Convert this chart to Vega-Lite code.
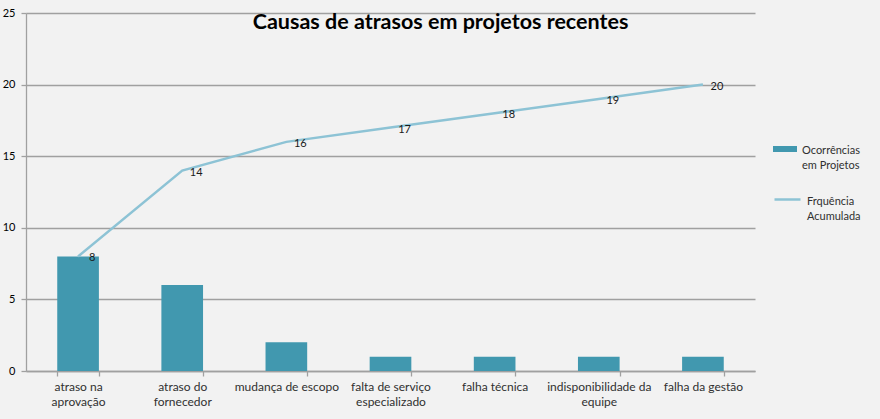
{
  "$schema": "https://vega.github.io/schema/vega-lite/v6.json",
  "width": 729,
  "height": 358,
  "autosize": {"type": "none"},
  "padding": {"left": 26, "top": 13, "right": 125, "bottom": 48},
  "background": "#f2f2f2",
  "title": {"text": "Causas de atrasos em projetos recentes", "font": "Lato", "fontSize": 21.5, "fontWeight": "bold", "color": "#000000", "anchor": "middle", "offset": 0, "dy": 26, "dx": 50},
  "config": {"view": {"stroke": null}, "legend": {"padding": 0}},
  "data": {"values": [
    {"cat": "atraso na|aprovação", "ocorr": 8, "acum": 8},
    {"cat": "atraso do|fornecedor", "ocorr": 6, "acum": 14},
    {"cat": "mudança de escopo", "ocorr": 2, "acum": 16},
    {"cat": "falta de serviço|especializado", "ocorr": 1, "acum": 17},
    {"cat": "falha técnica", "ocorr": 1, "acum": 18},
    {"cat": "indisponibilidade da|equipe", "ocorr": 1, "acum": 19},
    {"cat": "falha da gestão", "ocorr": 1, "acum": 20}
  ]},
  "encoding": {
    "x": {"field": "cat", "type": "nominal", "sort": null, "scale": {"paddingInner": 0.6, "paddingOuter": 0.3},
      "axis": {"title": null, "labelAngle": 0, "labelExpr": "split(datum.label, '|')", "labelFont": "Lato", "labelFontSize": 12, "labelColor": "#303030", "labelLineHeight": 15, "labelPadding": 5, "tickBand": "extent", "tickSize": 5, "tickColor": "#a0a0a0", "domainColor": "#a0a0a0", "domainWidth": 1.3, "tickWidth": 1.3, "labelBaseline": "top"}}
  },
  "layer": [
    {
      "mark": {"type": "bar"},
      "encoding": {
        "y": {"field": "ocorr", "type": "quantitative", "scale": {"domain": [0, 25], "nice": false},
          "axis": {"title": null, "values": [0, 5, 10, 15, 20, 25], "labelFont": "Lato", "labelFontSize": 11, "labelColor": "#000000", "tickSize": 5, "labelPadding": 6, "tickColor": "#a0a0a0", "domainColor": "#a0a0a0", "gridColor": "#a0a0a0", "gridWidth": 1.3, "domainWidth": 1.3, "tickWidth": 1.3}},
        "color": {"datum": "Ocorrências|em Projetos", "type": "nominal", "scale": {"range": ["#4198af"]},
          "legend": {"title": null, "orient": "none", "legendX": 747, "legendY": 124, "labelExpr": "split(datum.label, '|')", "labelFont": "Lato", "labelFontSize": 11, "labelColor": "#303030", "labelBaseline": "alphabetic", "symbolType": "M-1,-0.25H1V0.25H-1Z", "symbolSize": 576, "symbolStrokeWidth": 0, "labelOffset": 5,
            "encode": {"labels": {"update": {"dy": {"value": 5}, "lineHeight": {"value": 15}}}}}}
      }
    },
    {
      "mark": {"type": "line", "strokeWidth": 2.5},
      "encoding": {
        "y": {"field": "acum", "type": "quantitative"},
        "stroke": {"datum": "Frquência|Acumulada", "type": "nominal", "scale": {"range": ["#8dc3d5"]},
          "legend": {"title": null, "orient": "none", "legendX": 747, "legendY": 172, "labelExpr": "split(datum.label, '|')", "labelFont": "Lato", "labelFontSize": 11, "labelColor": "#303030", "labelBaseline": "alphabetic", "symbolType": "stroke", "symbolSize": 676, "symbolStrokeWidth": 2.5, "labelOffset": 5,
            "encode": {"labels": {"update": {"dy": {"value": 5}, "lineHeight": {"value": 15}}}}}}
      }
    },
    {
      "mark": {"type": "text", "dx": 14, "dy": 2, "font": "Lato", "fontSize": 11, "color": "#1a1a1a", "align": "center", "baseline": "middle"},
      "encoding": {
        "y": {"field": "acum", "type": "quantitative"},
        "text": {"field": "acum", "type": "quantitative"}
      }
    }
  ]
}
